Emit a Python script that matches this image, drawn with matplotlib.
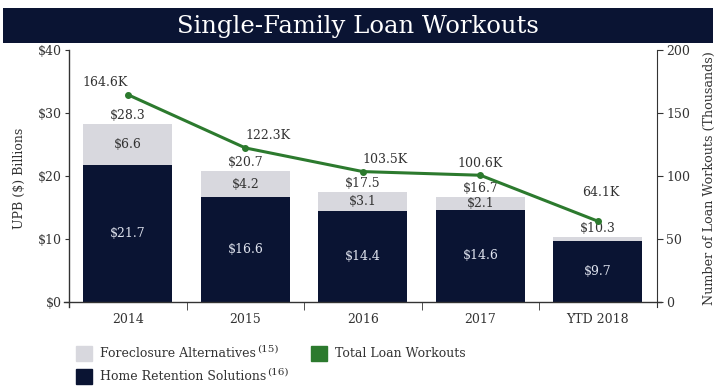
import matplotlib
matplotlib.use("Agg")
import matplotlib.pyplot as plt
import numpy as np

plt.rcParams['font.family'] = ['DejaVu Serif']

categories = ["2014", "2015", "2016", "2017", "YTD 2018"]
home_retention = [21.7, 16.6, 14.4, 14.6, 9.7]
foreclosure_alt = [6.6, 4.2, 3.1, 2.1, 0.6]
total_upb = [28.3, 20.7, 17.5, 16.7, 10.3]
total_workouts = [164.6, 122.3, 103.5, 100.6, 64.1]
left_ticks = [0, 10, 20, 30, 40]
left_ticklabels = ["$0", "$10", "$20", "$30", "$40"]
right_ticks = [0, 50, 100, 150, 200]

NAVY = "#0a1433"
GRAY = "#d8d8de"
GREEN = "#2c7a2e"
TXT = "#333333"

fig = plt.figure(figsize=(7.16, 3.87), dpi=100)

# title banner
banner = fig.add_axes([0.004, 0.889, 0.992, 0.090])
banner.set_facecolor(NAVY)
banner.set_xticks([]); banner.set_yticks([])
for s in banner.spines.values():
    s.set_visible(False)
banner.text(0.5, 0.47, "Single-Family Loan Workouts", color="white",
            fontsize=17.5, ha="center", va="center", transform=banner.transAxes)

ax = fig.add_axes([0.0898, 0.2067, 0.834, 0.664])
x = np.arange(len(categories))
w = 0.757
ax.bar(x, home_retention, w, color=NAVY, zorder=2)
ax.bar(x, foreclosure_alt, w, bottom=home_retention, color=GRAY, zorder=2)

for i in range(len(categories)):
    ax.text(x[i], home_retention[i] / 2, f"${home_retention[i]:.1f}",
            ha="center", va="center", color="#dfe3ee", fontsize=9)
    if foreclosure_alt[i] >= 1.5:
        ax.text(x[i], home_retention[i] + foreclosure_alt[i] / 2,
                f"${foreclosure_alt[i]:.1f}", ha="center", va="center",
                color=TXT, fontsize=9)
    ax.text(x[i], total_upb[i] + 0.35, f"${total_upb[i]:.1f}",
            ha="center", va="bottom", color=TXT, fontsize=9)

ax.set_xlim(-0.54, len(categories) - 0.46)
ax.set_ylim(-0.8, 40)
ax.spines["left"].set_position(("data", -0.5))
ax.spines["bottom"].set_position(("data", 0))
ax.set_yticks(left_ticks)
ax.set_yticklabels(left_ticklabels, fontsize=9, color=TXT)
ax.set_xticks(x)
ax.set_xticklabels(categories, fontsize=9, color=TXT)
ax.tick_params(axis="x", length=0, pad=8)
ax.set_xticks(np.arange(0.5, len(categories) - 1, 1), minor=True)
ax.tick_params(axis="x", which="minor", length=6, direction="out", color=TXT)
ax.tick_params(axis="y", length=3, color=TXT, pad=2)
ax.set_ylabel("UPB ($) Billions", fontsize=9, color=TXT, labelpad=9)
ax.spines["top"].set_visible(False)
ax.spines["right"].set_visible(False)
for s in ("left", "bottom"):
    ax.spines[s].set_color(TXT)
    ax.spines[s].set_linewidth(1.0)

ax2 = ax.twinx()
ax2.set_ylim(-4, 200)
ax2.spines["right"].set_position(("data", len(categories) - 0.5))
ax2.plot(x, total_workouts, color=GREEN, lw=2.2, marker="o", ms=4, zorder=3)

# per-label placement of the workout counts: (x offset pts, y offset pts, ha)
label_place = [(0, 4, "right"), (0, 4, "left"), (0, 4, "left"),
               (0, 4, "center"), (2, 16, "center")]
for i in range(len(categories)):
    dx, dy, ha = label_place[i]
    ax2.annotate(f"{total_workouts[i]:.1f}K", (x[i], total_workouts[i]),
                 xytext=(dx, dy), textcoords="offset points",
                 ha=ha, va="bottom", color=TXT, fontsize=9)
ax2.set_yticks(right_ticks)
ax2.set_yticklabels([str(t) for t in right_ticks], fontsize=9, color=TXT)
ax2.tick_params(axis="y", length=4, color=TXT, pad=3)
ax2.set_ylabel("Number of Loan Workouts (Thousands)", fontsize=9.2, color=TXT,
               labelpad=9)
for s in ("top", "left", "bottom"):
    ax2.spines[s].set_visible(False)
ax2.spines["right"].set_color(TXT)

# legend
renderer = fig.canvas.get_renderer()

def legend_item(xf, yf, color, label, note=None):
    fig.patches.append(plt.Rectangle((xf, yf - 0.019), 0.022, 0.039,
                                     color=color, transform=fig.transFigure))
    t = fig.text(xf + 0.033, yf, label, fontsize=9, color=TXT, va="center")
    if note:
        bb = t.get_window_extent(renderer=renderer)
        x1 = bb.x1 / fig.bbox.width
        fig.text(x1 + 0.002, yf + 0.012, note, fontsize=7.5, color=TXT,
                 va="center")

legend_item(0.106, 0.0866, GRAY, "Foreclosure Alternatives", "(15)")
legend_item(0.106, 0.027, NAVY, "Home Retention Solutions", "(16)")
legend_item(0.435, 0.0866, GREEN, "Total Loan Workouts")

fig.savefig("out.png", dpi=100, facecolor="white")
